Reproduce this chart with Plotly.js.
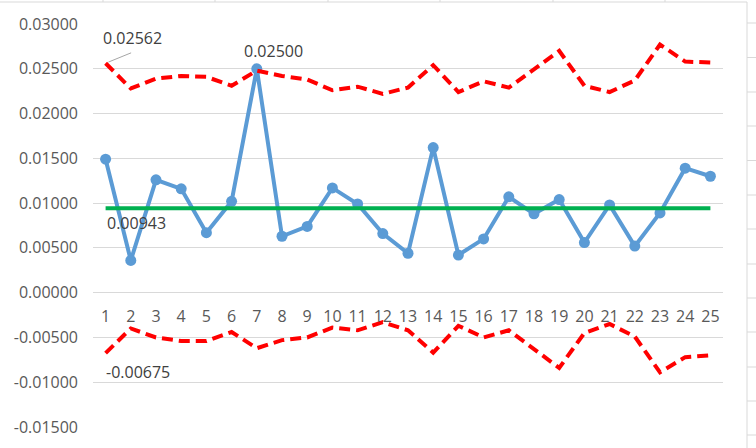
<!DOCTYPE html>
<html>
<head>
<meta charset="utf-8">
<script src="https://cdn.plot.ly/plotly-3.0.1.min.js"></script>
<style>html,body{margin:0;padding:0;background:#fff;}#chart{width:756px;height:448px;}</style>
</head>
<body>
<div id="chart"></div>
<script>
// ---- data ----
var samples = [1,2,3,4,5,6,7,8,9,10,11,12,13,14,15,16,17,18,19,20,21,22,23,24,25];
var values = [0.0149, 0.0036, 0.0126, 0.0116, 0.0067, 0.0102, 0.0250, 0.0063, 0.0074, 0.0117,
              0.0099, 0.0066, 0.0044, 0.0162, 0.0042, 0.0060, 0.0107, 0.0088, 0.0104, 0.0056,
              0.0098, 0.0052, 0.0089, 0.0139, 0.0130];
var centerLine = [0.00943, 0.00943, 0.00943, 0.00943, 0.00943, 0.00943, 0.00943, 0.00943, 0.00943, 0.00943,
                  0.00943, 0.00943, 0.00943, 0.00943, 0.00943, 0.00943, 0.00943, 0.00943, 0.00943, 0.00943,
                  0.00943, 0.00943, 0.00943, 0.00943, 0.00943];
var ucl = [0.02562, 0.0228, 0.0239, 0.0242, 0.0241, 0.0231, 0.0248, 0.0242, 0.0238, 0.0226,
           0.0230, 0.0222, 0.0229, 0.0254, 0.0224, 0.0236, 0.0229, 0.0249, 0.0270, 0.0231,
           0.0224, 0.0237, 0.0277, 0.0258, 0.0257];
var lcl = [-0.00675, -0.0040, -0.0050, -0.0054, -0.0054, -0.0044, -0.0062, -0.0053, -0.0050, -0.0039,
           -0.0042, -0.0033, -0.0042, -0.0067, -0.0037, -0.0050, -0.0042, -0.0063, -0.0084, -0.0045,
           -0.0035, -0.0049, -0.0089, -0.0072, -0.0070];
var yTickVals = [-0.015, -0.01, -0.005, 0, 0.005, 0.01, 0.015, 0.02, 0.025, 0.03];
var yTickText = ["-0.01500", "-0.01000", "-0.00500", "0.00000", "0.00500", "0.01000", "0.01500", "0.02000", "0.02500", "0.03000"];
var xTickText = ["1","2","3","4","5","6","7","8","9","10","11","12","13","14","15","16","17","18","19","20","21","22","23","24","25"];

// ---- layout helpers ----
var W = 756, H = 448, ML = 93, MR = 33, MT = 24, MB = 21;
var PW = W - ML - MR, PH = H - MT - MB;
function px2x(p){ return (p - ML) / PW; }
function px2y(p){ return (H - MB - p) / PH; }
var yMin = -0.015, yMax = 0.03;
var textColor = '#595959';
var gridColor = '#D9D9D9';
var font = {family: '"Open Sans", "Noto Sans", sans-serif', size: 16, color: textColor};

var traces = [
  {x: samples, y: values, type: 'scatter', mode: 'lines+markers',
   line: {color: '#5B9BD5', width: 4}, marker: {color: '#5B9BD5', size: 11}, hoverinfo: 'skip'},
  {x: samples, y: ucl, type: 'scatter', mode: 'lines',
   line: {color: '#FF0000', width: 4, dash: '11px,6px'}, hoverinfo: 'skip'},
  {x: samples, y: lcl, type: 'scatter', mode: 'lines',
   line: {color: '#FF0000', width: 4, dash: '11px,6px'}, hoverinfo: 'skip'},
  {x: samples, y: centerLine, type: 'scatter', mode: 'lines',
   line: {color: '#00B050', width: 4}, hoverinfo: 'skip'}
];

var shapes = [];
var lineStyle = {color: gridColor, width: 1};
// sheet border: top and right
shapes.push({type: 'line', xref: 'paper', yref: 'paper', x0: px2x(0), x1: px2x(747), y0: px2y(2), y1: px2y(2), line: lineStyle});
shapes.push({type: 'line', xref: 'paper', yref: 'paper', x0: px2x(747), x1: px2x(747), y0: px2y(2), y1: px2y(448), line: lineStyle});
[103, 215, 328, 440, 553, 665].forEach(function(p){
  shapes.push({type: 'line', xref: 'paper', yref: 'paper', x0: px2x(p), x1: px2x(p), y0: px2y(0), y1: px2y(2), line: lineStyle});
});
[23, 57.5, 92, 126, 160.5, 195, 229, 264, 298, 332, 367, 401, 435].forEach(function(p){
  shapes.push({type: 'line', xref: 'paper', yref: 'paper', x0: px2x(747), x1: px2x(756), y0: px2y(p), y1: px2y(p), line: lineStyle});
});

var annFont = {family: font.family, size: 16, color: '#404040'};
var annotations = [
  {x: samples[0], y: ucl[0], xref: 'x', yref: 'y', text: ucl[0].toFixed(5), showarrow: false,
   xshift: 27, yshift: 25, font: annFont},
  {x: samples[0], y: ucl[0], xref: 'x', yref: 'y', text: '', showarrow: true, arrowhead: 0,
   arrowwidth: 1, arrowcolor: '#A6A6A6', ax: 27, ay: -11, standoff: 3},
  {x: samples[6], y: values[6], xref: 'x', yref: 'y', text: values[6].toFixed(5), showarrow: false,
   xshift: 17, yshift: 18, font: annFont},
  {x: samples[0], y: centerLine[0], xref: 'x', yref: 'y', text: centerLine[0].toFixed(5), showarrow: false,
   xshift: 31, yshift: -15, font: annFont},
  {x: samples[0], y: lcl[0], xref: 'x', yref: 'y', text: lcl[0].toFixed(5), showarrow: false,
   xshift: 32, yshift: -19, font: annFont}
];

var layout = {
  width: W, height: H,
  margin: {l: ML, r: MR, t: MT, b: MB, pad: 0},
  paper_bgcolor: '#ffffff', plot_bgcolor: '#ffffff',
  showlegend: false,
  font: font,
  xaxis: {range: [0.5, 25.5], tickvals: samples, ticktext: xTickText, showgrid: false, zeroline: false,
          showline: false, ticks: '', anchor: 'free', position: (0 - yMin) / (yMax - yMin),
          ticklabelstandoff: 12, tickfont: font, fixedrange: true},
  yaxis: {range: [yMin, yMax], tickvals: yTickVals, ticktext: yTickText, showgrid: true,
          gridcolor: gridColor, gridwidth: 1, zeroline: true, zerolinecolor: gridColor, zerolinewidth: 1,
          showline: false, ticks: '', ticklabelstandoff: 14, tickfont: font, fixedrange: true},
  shapes: shapes,
  annotations: annotations
};

Plotly.newPlot('chart', traces, layout, {displayModeBar: false, staticPlot: true});
</script>
</body>
</html>
